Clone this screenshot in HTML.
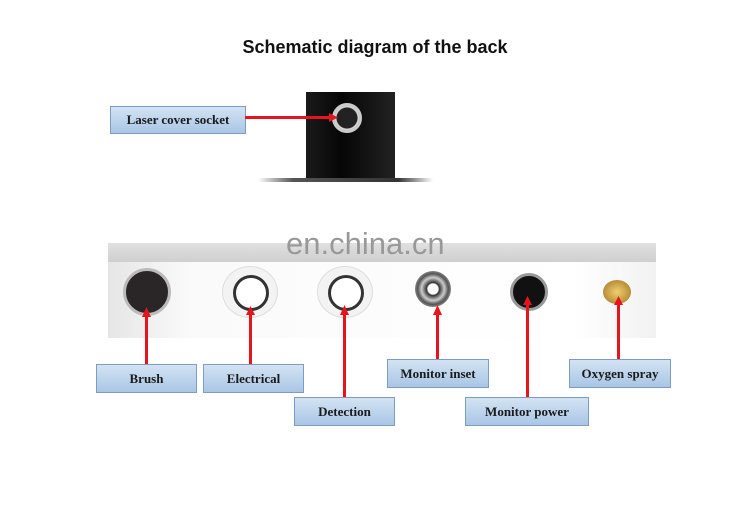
<!DOCTYPE html>
<html><head><meta charset="utf-8"><style>
body{margin:0;width:750px;height:509px;background:#fff;position:relative;overflow:hidden;font-family:"Liberation Sans",sans-serif}
.t{position:absolute;left:0;width:750px;top:37px;text-align:center;font-weight:bold;font-size:18px;color:#111}
.b{position:absolute;box-sizing:border-box;border:1.5px solid #7e9cc0;background:linear-gradient(#d3e3f3,#a9c6e6);font-family:"Liberation Serif",serif;font-weight:bold;font-size:13px;color:#1a1a1a;display:flex;align-items:center;justify-content:center}
.a{position:absolute;background:#e8141c}
</style></head><body>
<div class="t">Schematic diagram of the back</div>
<div style="position:absolute;left:306px;top:92px;width:89px;height:88px;background:linear-gradient(90deg,#1a1a1a,#060606 40%,#222)"></div>
<div style="position:absolute;left:258px;top:178px;width:175px;height:4px;background:linear-gradient(90deg,#fff,#555 20%,#333 80%,#fff)"></div>
<div style="position:absolute;left:332px;top:103px;width:26px;height:26px;border-radius:50%;background:radial-gradient(#222 55%,#ddd 60%,#999 85%);border:2px solid #ccc"></div>
<div class="b" style="left:110px;top:106px;width:136px;height:28px">Laser cover socket</div>
<div class="a" style="left:245px;top:116px;width:85px;height:3px"></div>
<svg style="position:absolute;left:0;top:0" width="750" height="509">
<polygon points="338,117.5 329,113 329,122" fill="#e8141c"/>
</svg>
<div style="position:absolute;left:108px;top:243px;width:548px;height:95px;background:linear-gradient(90deg,#e6e6e6,#fafafa 15%,#fff 85%,#f2f2f2)"></div>
<div style="position:absolute;left:108px;top:243px;width:548px;height:19px;background:linear-gradient(#e0e0e0,#cfcfcf)"></div>
<div style="position:absolute;left:286px;top:226px;font-size:31px;color:#999">en.china.cn</div>
<div style="position:absolute;left:123px;top:268px;width:42px;height:42px;border-radius:50%;background:#2a2628;border:3px solid #bbb"></div>
<div style="position:absolute;left:222px;top:266px;width:54px;height:50px;border-radius:50%;background:#f3f3f3;border:1px solid #ddd"></div>
<div style="position:absolute;left:233px;top:275px;width:30px;height:30px;border-radius:50%;background:#fff;border:3px solid #333"></div>
<div style="position:absolute;left:317px;top:266px;width:54px;height:50px;border-radius:50%;background:#f3f3f3;border:1px solid #ddd"></div>
<div style="position:absolute;left:328px;top:275px;width:30px;height:30px;border-radius:50%;background:#fff;border:3px solid #333"></div>
<div style="position:absolute;left:415px;top:271px;width:36px;height:36px;border-radius:50%;background:radial-gradient(#fff 20%,#333 25%,#ccc 45%,#555 60%,#aaa 80%)"></div>
<div style="position:absolute;left:510px;top:273px;width:32px;height:32px;border-radius:50%;background:#111;border:3px solid #999"></div>
<div style="position:absolute;left:603px;top:280px;width:28px;height:24px;border-radius:50%;background:radial-gradient(#f0d070,#a07020)"></div>
<div class="a" style="left:145px;top:316px;width:3px;height:48px"></div>
<div class="a" style="left:249px;top:314px;width:3px;height:50px"></div>
<div class="a" style="left:343px;top:314px;width:3px;height:83px"></div>
<div class="a" style="left:436px;top:314px;width:3px;height:45px"></div>
<div class="a" style="left:526px;top:304px;width:3px;height:93px"></div>
<div class="a" style="left:617px;top:304px;width:3px;height:55px"></div>
<svg style="position:absolute;left:0;top:0" width="750" height="509">
<g fill="#e8141c">
<polygon points="146.5,307 142,317 151,317"/>
<polygon points="250.5,306 246,315 255,315"/>
<polygon points="344.5,305 340,315 349,315"/>
<polygon points="437.5,305 433,315 442,315"/>
<polygon points="527.5,296 523,305 532,305"/>
<polygon points="618.5,296 614,305 623,305"/>
</g></svg>
<div class="b" style="left:96px;top:364px;width:101px;height:29px">Brush</div>
<div class="b" style="left:203px;top:364px;width:101px;height:29px">Electrical</div>
<div class="b" style="left:294px;top:397px;width:101px;height:29px">Detection</div>
<div class="b" style="left:387px;top:359px;width:102px;height:29px">Monitor inset</div>
<div class="b" style="left:465px;top:397px;width:124px;height:29px">Monitor power</div>
<div class="b" style="left:569px;top:359px;width:102px;height:29px">Oxygen spray</div>
</body></html>
